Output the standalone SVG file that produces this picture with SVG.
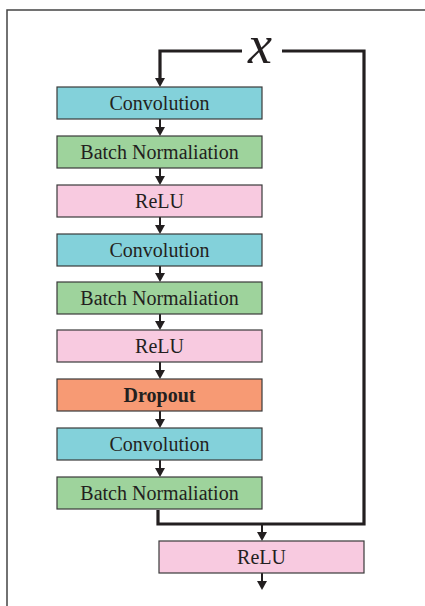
<svg xmlns="http://www.w3.org/2000/svg" width="425" height="606" viewBox="0 0 425 606">
<style>
.box{stroke:#3a3a3a;stroke-width:1.2}
.conv{fill:#83D1DA}
.bn{fill:#9ED39C}
.relu{fill:#F8CAE0}
.drop{fill:#F79A74}
.lbl{font-family:"Liberation Serif","Times New Roman",serif;font-size:20px;fill:#231f20;text-anchor:middle}
.bold{font-weight:bold}
.ln{stroke:#231f20;stroke-width:2;fill:none}
.loop{stroke:#231f20;stroke-width:3.2;fill:none;stroke-linejoin:miter}
.frame{stroke:#444;stroke-width:1.5;fill:none}
</style>
<defs>
<path id="tri" d="M-5,-9 L5,-9 L0,0 Z" fill="#231f20"/>
</defs>
<path class="frame" d="M7,606 L7,10 L425,10"/>
<g id="connectors">
<path class="loop" d="M160,78 L160,51 L242,51"/>
<path class="loop" d="M282,51 L364,51 L364,524 L158,524 L158,510"/>
<path class="ln" d="M262,524 L262,533"/>
<use href="#tri" x="262" y="541"/>
<use href="#tri" x="160" y="87"/>
<path class="ln" d="M160,119 L160,128"/><use href="#tri" x="160" y="136"/>
<path class="ln" d="M160,168 L160,177"/><use href="#tri" x="160" y="185"/>
<path class="ln" d="M160,217 L160,226"/><use href="#tri" x="160" y="234"/>
<path class="ln" d="M160,266 L160,274"/><use href="#tri" x="160" y="282"/>
<path class="ln" d="M160,314 L160,322"/><use href="#tri" x="160" y="330"/>
<path class="ln" d="M160,362 L160,371"/><use href="#tri" x="160" y="379"/>
<path class="ln" d="M160,411 L160,420"/><use href="#tri" x="160" y="428"/>
<path class="ln" d="M160,460 L160,469"/><use href="#tri" x="160" y="477"/>
<path class="ln" d="M262,573 L262,581"/><use href="#tri" x="262" y="590"/>
</g>
<g id="x-label"><text x="260" y="63" font-family="Liberation Serif,'Times New Roman',serif" font-style="italic" font-size="54" text-anchor="middle" fill="#231f20">x</text></g>
<g id="conv1"><rect class="box conv" x="57" y="87" width="205" height="32"/><text class="lbl" x="159.5" y="110">Convolution</text></g>
<g id="bn1"><rect class="box bn" x="57" y="136" width="205" height="32"/><text class="lbl" x="159.5" y="159">Batch Normaliation</text></g>
<g id="relu1"><rect class="box relu" x="57" y="185" width="205" height="32"/><text class="lbl" x="159.5" y="208">ReLU</text></g>
<g id="conv2"><rect class="box conv" x="57" y="234" width="205" height="32"/><text class="lbl" x="159.5" y="257">Convolution</text></g>
<g id="bn2"><rect class="box bn" x="57" y="282" width="205" height="32"/><text class="lbl" x="159.5" y="305">Batch Normaliation</text></g>
<g id="relu2"><rect class="box relu" x="57" y="330" width="205" height="32"/><text class="lbl" x="159.5" y="353">ReLU</text></g>
<g id="dropout"><rect class="box drop" x="57" y="379" width="205" height="32"/><text class="lbl bold" x="159.5" y="402">Dropout</text></g>
<g id="conv3"><rect class="box conv" x="57" y="428" width="205" height="32"/><text class="lbl" x="159.5" y="451">Convolution</text></g>
<g id="bn3"><rect class="box bn" x="57" y="477" width="205" height="32"/><text class="lbl" x="159.5" y="500">Batch Normaliation</text></g>
<g id="relu3"><rect class="box relu" x="159" y="541" width="205" height="32"/><text class="lbl" x="261.5" y="564">ReLU</text></g>
</svg>
